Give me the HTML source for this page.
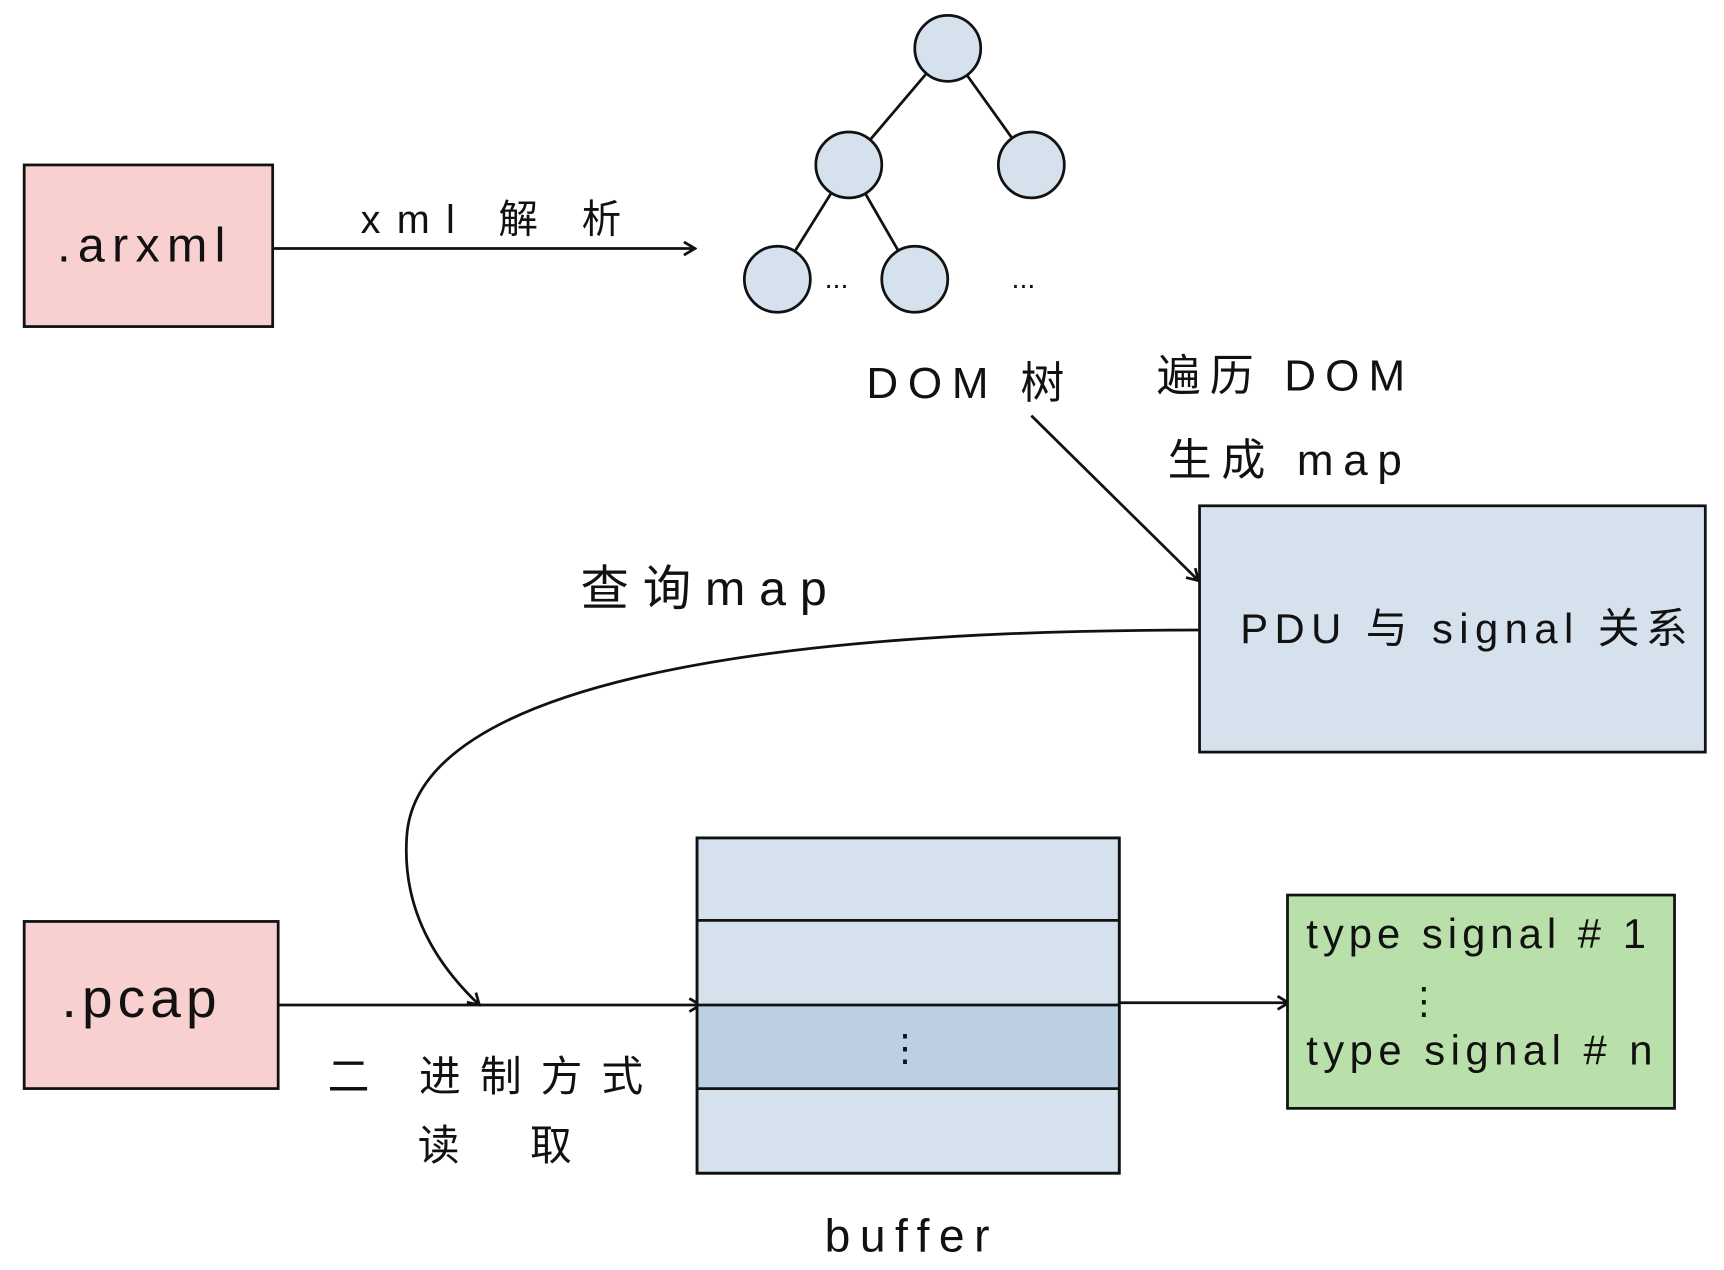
<!DOCTYPE html>
<html><head><meta charset="utf-8"><style>
html,body{margin:0;padding:0;background:#fff;}
svg{display:block;}
text{font-family:"Liberation Sans","Noto Sans CJK SC",sans-serif;fill:#111;}
</style></head><body>
<svg width="1724" height="1270" viewBox="0 0 1568 1155" preserveAspectRatio="none" xmlns="http://www.w3.org/2000/svg">
<defs>
<marker id="a" markerWidth="14" markerHeight="14" refX="12" refY="7" orient="auto" markerUnits="userSpaceOnUse">
<path d="M2,1 L12,7 L2,13" fill="none" stroke="#111" stroke-width="2.5"/>
</marker>
</defs>
<!-- arxml -->
<rect x="22" y="150" width="226" height="147" fill="#f9d0d0" stroke="#111" stroke-width="2.5"/>
<text x="52" y="238" font-size="44" textLength="153" lengthAdjust="spacing">.arxml</text>
<line x1="248" y1="226" x2="632" y2="226" stroke="#111" stroke-width="2.5" marker-end="url(#a)"/>
<text x="328" y="212" font-size="36" textLength="237" lengthAdjust="spacing">xml 解 析</text>
<!-- tree -->
<g stroke="#111" stroke-width="2.5">
<line x1="862" y1="44" x2="772" y2="150"/><line x1="862" y1="44" x2="938" y2="150"/>
<line x1="772" y1="150" x2="707" y2="254"/><line x1="772" y1="150" x2="832" y2="254"/>
</g>
<g fill="#d6e1ee" stroke="#111" stroke-width="2.5">
<circle cx="862" cy="44" r="30"/><circle cx="772" cy="150" r="30"/><circle cx="938" cy="150" r="30"/>
<circle cx="707" cy="254" r="30"/><circle cx="832" cy="254" r="30"/>
</g>
<text x="750" y="262" font-size="26">...</text>
<text x="920" y="262" font-size="26">...</text>
<text x="788" y="362" font-size="40" textLength="180" lengthAdjust="spacing">DOM 树</text>
<text x="1052" y="355" font-size="40" textLength="226" lengthAdjust="spacing">遍历 DOM</text>
<text x="1062" y="432" font-size="40" textLength="213" lengthAdjust="spacing">生成 map</text>
<line x1="938" y1="378" x2="1090" y2="528" stroke="#111" stroke-width="2.5" marker-end="url(#a)"/>
<!-- PDU -->
<rect x="1091" y="460" width="460" height="224" fill="#d6e1ee" stroke="#111" stroke-width="2.5"/>
<text x="1128" y="585" font-size="38" textLength="407" lengthAdjust="spacing">PDU 与 signal 关系</text>
<path d="M1090,573 C700,573 380,620 370,760 C365,830 400,880 436,914" fill="none" stroke="#111" stroke-width="2.5" marker-end="url(#a)"/>
<text x="528" y="550" font-size="44" textLength="224" lengthAdjust="spacing">查询map</text>
<!-- pcap -->
<rect x="22" y="838" width="231" height="152" fill="#f9d0d0" stroke="#111" stroke-width="2.5"/>
<text x="56" y="925" font-size="50" textLength="141" lengthAdjust="spacing">.pcap</text>
<line x1="253" y1="914" x2="637" y2="914" stroke="#111" stroke-width="2.5" marker-end="url(#a)"/>
<text x="298" y="992" font-size="38" textLength="287" lengthAdjust="spacing">二 进制方式</text>
<text x="380" y="1055" font-size="38" textLength="140" lengthAdjust="spacing">读 取</text>
<!-- buffer -->
<rect x="634" y="762" width="384" height="305" fill="#d6e1ee" stroke="#111" stroke-width="2.5"/>
<rect x="634" y="914" width="384" height="76" fill="#bccfe3"/>
<g stroke="#111" stroke-width="2.5">
<line x1="634" y1="837" x2="1018" y2="837"/><line x1="634" y1="914" x2="1018" y2="914"/><line x1="634" y1="990" x2="1018" y2="990"/>
<rect x="634" y="762" width="384" height="305" fill="none"/>
</g>
<text x="806" y="965" font-size="34">⋮</text>
<text x="750" y="1138" font-size="42" textLength="150" lengthAdjust="spacing">buffer</text>
<line x1="1018" y1="912" x2="1172" y2="912" stroke="#111" stroke-width="2.5" marker-end="url(#a)"/>
<!-- green -->
<rect x="1171" y="814" width="352" height="194" fill="#b9e0aa" stroke="#111" stroke-width="2.5"/>
<text x="1188" y="862" font-size="38" textLength="309" lengthAdjust="spacing">type signal # 1</text>
<text x="1278" y="922" font-size="34">⋮</text>
<text x="1188" y="968" font-size="38" textLength="315" lengthAdjust="spacing">type signal # n</text>
</svg>
</body></html>
